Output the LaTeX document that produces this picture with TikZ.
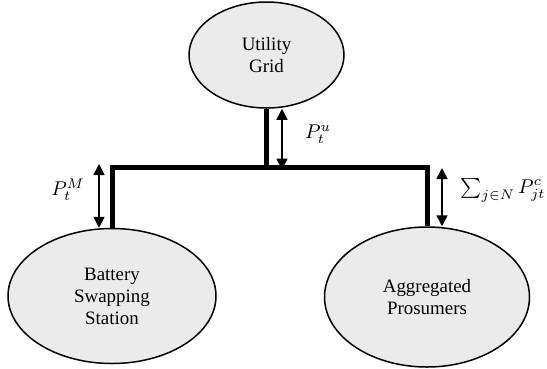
\documentclass[tikz,border=0pt]{standalone}
\usepackage{fontspec}
\setmainfont{Liberation Serif}
\usetikzlibrary{shapes.geometric,arrows.meta}
\begin{document}
\begin{tikzpicture}[x=1bp,y=-1bp,
  ell/.style={ellipse,draw=black,line width=1.5bp,fill=black!8,inner sep=0pt,
    align=center,font=\fontsize{19}{22}\selectfont},
  bus/.style={line width=5bp},
  biarrow/.style={line width=1.5bp,{Triangle[width=11bp,length=11bp]}-{Triangle[width=11bp,length=11bp]}},
  lab/.style={scale=2,inner sep=1pt}]
\useasboundingbox (0,0) rectangle (547,368);
\node[ell,minimum width=155bp,minimum height=106bp] (grid) at (266.5,55) {Utility\\Grid};
\node[ell,minimum width=208bp,minimum height=135bp] (bss) at (112,296) {Battery\\Swapping\\Station};
\node[ell,minimum width=205bp,minimum height=140bp] (ap) at (427,297) {Aggregated\\Prosumers};
\coordinate (jL) at (112,167);
\coordinate (jR) at (427,167);
\coordinate (jT) at (grid.south |- jL);
\draw[bus] (grid.south) -- (jT);
\draw[bus] (bss.north) -- (jL) -- (jR) -- (ap.north);
\draw[biarrow] ([xshift=15.5bp]grid.south) -- ([xshift=15.5bp,yshift=-2.5bp]jT);
\draw[biarrow] ([xshift=-13bp,yshift=3bp]jL) -- ([xshift=-13bp]bss.north);
\draw[biarrow] ([xshift=15bp,yshift=-1bp]jR) -- ([xshift=15bp]ap.north);
\node[lab] (pu) at (318,134) {$P_t^u$};
\node[lab] (pm) at (68,190) {$P_t^M$};
\node[lab] (pc) at (503,190) {$\sum_{j\in N} P_{jt}^c$};
\end{tikzpicture}
\end{document}
